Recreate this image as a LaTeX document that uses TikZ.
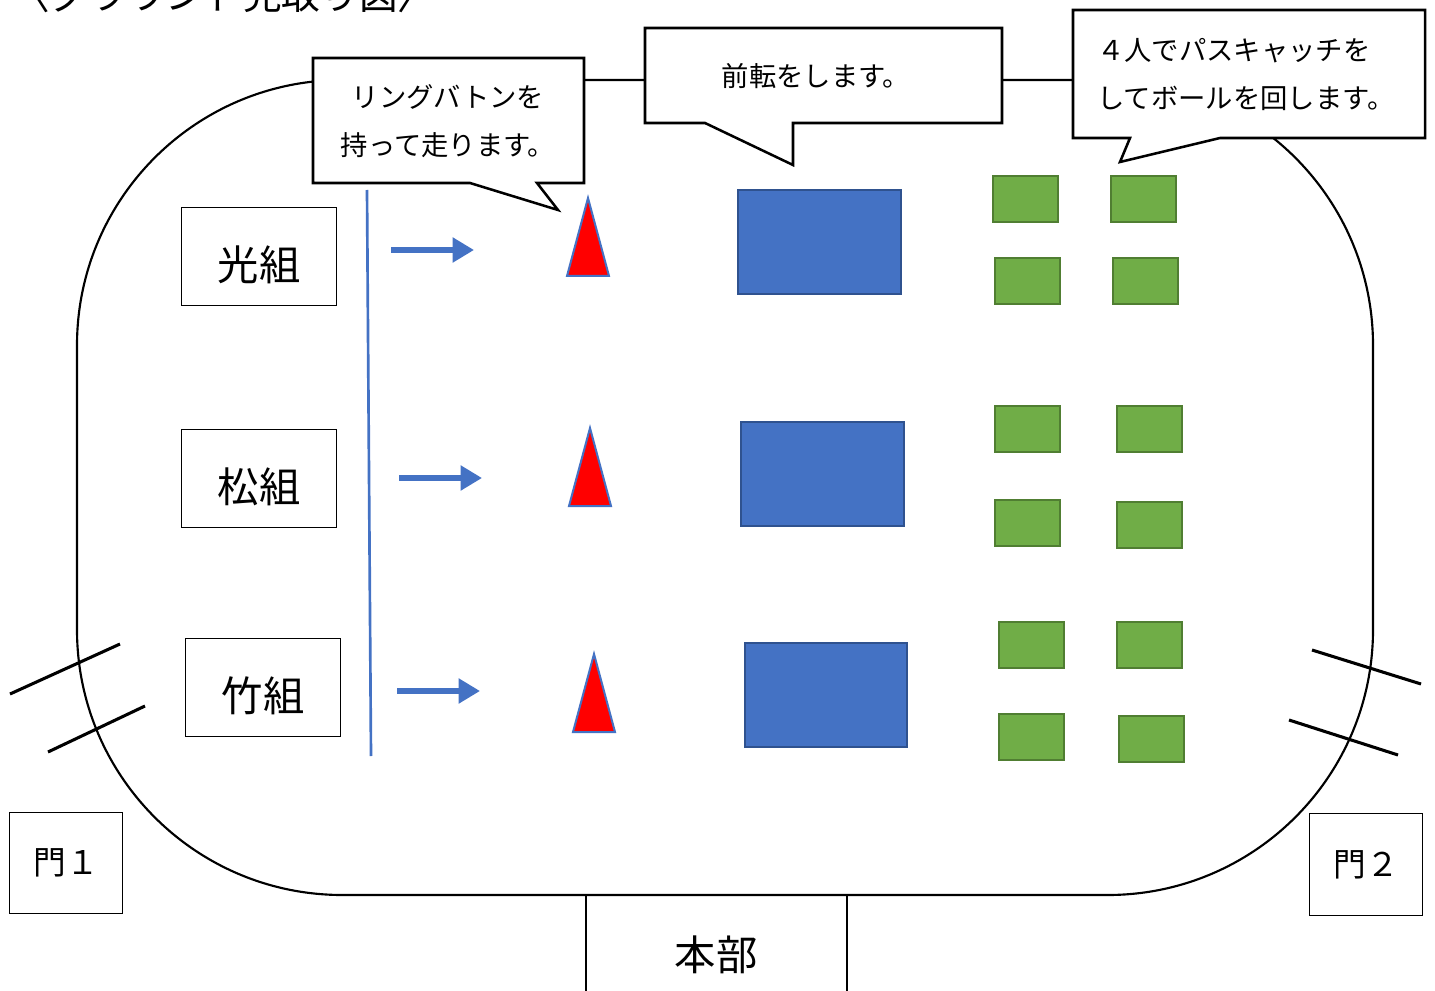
\documentclass[tikz,border=0pt]{standalone}
\usepackage{fontspec}
\setmainfont{Noto Sans CJK JP}
\usetikzlibrary{arrows.meta}
\definecolor{matblue}{HTML}{4472C4}
\definecolor{matedge}{HTML}{2F528F}
\definecolor{boxgreen}{HTML}{70AD47}
\definecolor{greenedge}{HTML}{507E32}
\begin{document}
\begin{tikzpicture}[x=0.75pt,y=-0.75pt,
  trk/.style={line width=1.6pt},
  callout/.style={draw, fill=white, line width=1.9pt, line join=miter},
  ctext/.style={inner sep=0pt, align=center, font=\fontsize{20.5}{36}\selectfont},
  grp/.style={draw, line width=0.8pt, inner sep=0pt, minimum width=116pt, minimum height=74pt},
  grptext/.style={inner sep=0pt, font=\fontsize{31}{36}\selectfont, yshift=-6pt},
  gate/.style={draw, line width=0.8pt, inner sep=0pt, minimum width=85pt, minimum height=76pt, font=\fontsize{24.5}{30}\selectfont},
  gatemark/.style={line width=2.3pt},
  runarrow/.style={draw=matblue, line width=3.8pt, -{Triangle[length=16pt,width=18pt]}},
  cone/.style={draw=matblue, fill=red, line width=1.5pt, line join=miter},
  mat/.style={draw=matedge, fill=matblue, line width=1.5pt},
  gbox/.style={draw=greenedge, fill=boxgreen, line width=1.5pt}]
\useasboundingbox (0,0) rectangle (1435,991);
\clip (0,0) rectangle (1435,991);

% title (cut at top, as in the reference)
\node[anchor=base, inner sep=0pt, font=\fontsize{29}{34}\selectfont] (title) at (224,10) {〈グラウンド見取り図〉};

% track
\draw[trk, rounded corners=199pt] (77,80) rectangle (1373,895);

% headquarters
\coordinate (hqL) at (586,895);
\coordinate (hqR) at (847,895);
\coordinate (hqLb) at (586,995);
\coordinate (hqRb) at (847,995);
\draw[trk] (hqL) -- (hqLb);
\draw[trk] (hqR) -- (hqRb);
\node[inner sep=0pt, font=\fontsize{31}{36}\selectfont] (hq) at (716,955) {本部};

% callouts
\draw[callout] (313,58) -- (584,58) -- (584,183) -- (537,183) -- (558,210) -- (470,183) -- (313,183) -- cycle;
\node[ctext] (c1) at (448,121) {リングバトンを\\持って走ります。};
\draw[callout] (645,28) -- (1002,28) -- (1002,123) -- (793,123) -- (793,165) -- (705,123) -- (645,123) -- cycle;
\node[ctext] (c2) at (816,76) {前転をします。};
\draw[callout] (1073,10) -- (1425,10) -- (1425,138) -- (1220,138) -- (1120,162) -- (1130,138) -- (1073,138) -- cycle;
\node[ctext, align=left, anchor=west] (c3) at (1097,75) {４人でパスキャッチを\\してボールを回します。};

% groups
\node[grp] (g1) at (259,256.5) {};
\node[grptext] (g1t) at (g1.center) {光組};
\node[grp] (g2) at (259,478.5) {};
\node[grptext] (g2t) at (g2.center) {松組};
\node[grp] (g3) at (263,687.5) {};
\node[grptext] (g3t) at (g3.center) {竹組};

% start line
\coordinate (sl1) at (367,190);
\coordinate (sl2) at (371,756);
\draw[draw=matblue, line width=2pt] (sl1) -- (sl2);

% arrows
\coordinate (a1s) at (391,250); \coordinate (a1e) at (474,250);
\coordinate (a2s) at (399,478); \coordinate (a2e) at (482,478);
\coordinate (a3s) at (397,691); \coordinate (a3e) at (480,691);
\draw[runarrow] (a1s) -- (a1e);
\draw[runarrow] (a2s) -- (a2e);
\draw[runarrow] (a3s) -- (a3e);

% cones
\draw[cone] (588,198) -- (609,276) -- (567,276) -- cycle;
\draw[cone] (590,428) -- (611,506) -- (569,506) -- cycle;
\draw[cone] (594,654) -- (615,732) -- (573,732) -- cycle;

% mats
\draw[mat] (738,190) rectangle (901,294);
\draw[mat] (741,422) rectangle (904,526);
\draw[mat] (745,643) rectangle (907,747);

% green boxes
\draw[gbox] (993,176) rectangle (1058,222);
\draw[gbox] (1111,176) rectangle (1176,222);
\draw[gbox] (995,258) rectangle (1060,304);
\draw[gbox] (1113,258) rectangle (1178,304);
\draw[gbox] (995,406) rectangle (1060,452);
\draw[gbox] (1117,406) rectangle (1182,452);
\draw[gbox] (995,500) rectangle (1060,546);
\draw[gbox] (1117,502) rectangle (1182,548);
\draw[gbox] (999,622) rectangle (1064,668);
\draw[gbox] (1117,622) rectangle (1182,668);
\draw[gbox] (999,714) rectangle (1064,760);
\draw[gbox] (1119,716) rectangle (1184,762);

% gate marks
\draw[gatemark] (10,694) -- (120,644);
\draw[gatemark] (48,752) -- (145,706);
\draw[gatemark] (1312,650) -- (1421,684);
\draw[gatemark] (1289,720) -- (1398,755);

% gates
\node[gate] (gate1) at (66,863) {門１};
\node[gate] (gate2) at (1366,864.5) {門２};
\end{tikzpicture}
\end{document}
